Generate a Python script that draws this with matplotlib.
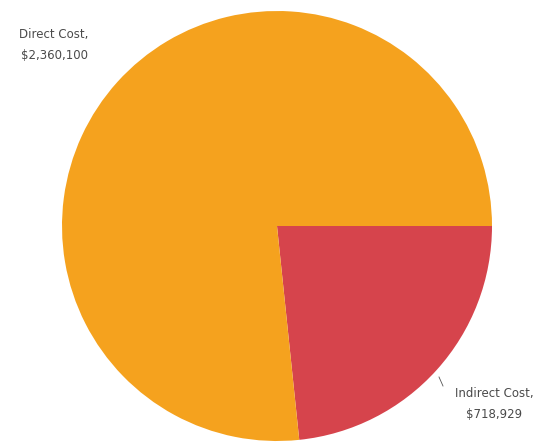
import matplotlib.pyplot as plt

labels = ['Indirect Cost,\n$718,929', 'Direct Cost,\n$2,360,100']
values = [718929, 2360100]
colors = ['#D6444C', '#F5A21E']

fig = plt.figure(figsize=(5.55, 4.44), dpi=100)
# pie centre ~ (277, 226) px, radius ~ 215 px
cx, cy, r = 277, 226, 215
ax = fig.add_axes([(cx - r) / 555, (444 - cy - r) / 444, 2 * r / 555, 2 * r / 444])
ax.pie(values, colors=colors, startangle=0, counterclock=False,
       wedgeprops=dict(linewidth=0))
ax.set_aspect('equal')
ax.set_xlim(-1, 1)
ax.set_ylim(-1, 1)
ax.axis('off')

fig.text(54 / 555, 1 - 45 / 444, labels[1], ha='center', va='center',
         fontsize=8.5, color='#4a4a4a', linespacing=1.8)
fig.text(494 / 555, 1 - 404 / 444, labels[0], ha='center', va='center',
         fontsize=8.5, color='#4a4a4a', linespacing=1.8)
# small leader near the indirect slice
fig.add_artist(plt.Line2D([439 / 555, 443 / 555], [1 - 377 / 444, 1 - 386 / 444],
                          color='#555555', linewidth=0.6))

fig.savefig('out.png', dpi=100)
